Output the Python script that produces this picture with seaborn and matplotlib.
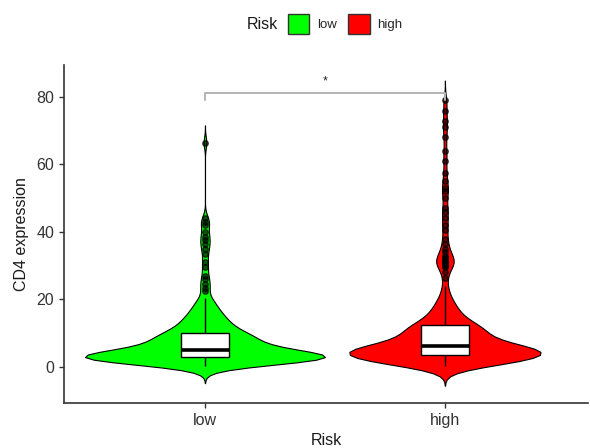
import numpy as np
import pandas as pd
import matplotlib
matplotlib.use("Agg")
import matplotlib.pyplot as plt
from matplotlib.patches import Patch
import seaborn as sns

# CD4 expression values (value bins with counts + outlier points)
low_core_values = [0.3, 0.8, 1.3, 1.8, 2.3, 2.6, 2.9, 3.3, 3.8, 4.3, 4.8, 5.5, 6.5, 7.5,
                   8.5, 9.5, 10.2, 11.5, 12.5, 13.5, 14.5, 15.5, 16.5, 17.5, 18.5, 19.5,
                   20.5]
low_core_counts = [4, 6, 8, 11, 15, 8, 9, 14, 12, 10, 7, 11, 10, 10,
                   9, 8, 7, 6, 5, 4, 4, 3, 3, 2, 2, 2,
                   1]
low_outliers = [22.5, 23.5, 24.5, 26, 27, 29.5, 31, 33.5, 35, 36.5, 37.5, 38.5,
                40, 42, 43, 44, 66.5]

high_core_values = [0.3, 0.8, 1.3, 1.8, 2.3, 2.8, 3.3,
                    3.8, 4.3, 4.8, 5.3, 5.9,
                    6.5, 7.5, 8.5, 9.5, 10.5, 11.5, 12.2,
                    13, 14, 15, 16, 17, 18, 19, 20, 21.5, 22.5, 24]
high_core_counts = [6, 7, 8, 9, 10, 10, 10,
                    12, 12, 12, 12, 12,
                    10, 10, 9, 9, 8, 8, 6,
                    5, 4, 4, 3, 3, 2, 2, 2, 1, 1, 1]
high_outliers = [26.5, 28, 29.5, 30, 30.5, 31, 31, 31.5, 32, 32.5, 33, 34, 35, 36.5,
                 38, 40.5, 42, 44, 46, 47, 50, 52, 53, 55, 57.5, 61, 64, 68, 71, 73,
                 76, 79]

groups = ["low", "high"]
palette = {"low": "#00FF00", "high": "#FF0000"}

low = np.concatenate([np.repeat(low_core_values, low_core_counts), low_outliers])
high = np.concatenate([np.repeat(high_core_values, high_core_counts), high_outliers])
df = pd.DataFrame({
    "Risk": ["low"] * len(low) + ["high"] * len(high),
    "CD4": np.concatenate([low, high]),
})


def nrd0(kde):
    # R's default bandwidth (bw.nrd0), as used by ggplot's violins
    x = kde.dataset[0]
    sd = x.std(ddof=1)
    q75, q25 = np.percentile(x, [75, 25])
    lo = min(sd, (q75 - q25) / 1.34)
    return 0.9 * lo * len(x) ** -0.2 / sd


sns.set_style("white")
plt.rcParams["font.family"] = ["Liberation Sans", "DejaVu Sans"]

fig = plt.figure(figsize=(5.9, 4.48), dpi=100)
ax = fig.add_axes([0.1085, 0.1004, 0.888, 0.7546])

sns.violinplot(data=df, x="Risk", y="CD4", hue="Risk", order=groups, hue_order=groups,
               palette=palette, inner=None, cut=3, bw_method=nrd0, density_norm="area",
               common_norm=True, width=1.0, linecolor="black", linewidth=0.8,
               saturation=1, legend=False, ax=ax)

sns.boxplot(data=df, x="Risk", y="CD4", order=groups, color="white", width=0.2,
            linecolor="black", linewidth=1.0, saturation=1, showcaps=False, ax=ax,
            medianprops=dict(color="black", linewidth=2.6),
            flierprops=dict(marker="o", markerfacecolor="black", markeredgecolor="black",
                            markersize=4, alpha=0.65))

# significance bracket
ytop = df["CD4"].max() + 2.2
ax.plot([0, 0, 1, 1], [ytop - 2.1, ytop, ytop, ytop - 2.1], color="#b3b3b3", lw=1.4)
ax.text(0.5, ytop + 1.6, "*", ha="center", va="bottom", fontsize=9, color="#222222")

ax.set_xlim(-0.5875, 1.596)
ax.set_ylim(-10.7, 89.5)
ax.set_yticks([0, 20, 40, 60, 80])
ax.set_xlabel("Risk", fontsize=11.5, color="#1a1a1a", labelpad=4)
ax.set_ylabel("CD4 expression", fontsize=11.5, color="#1a1a1a", labelpad=5)
ax.tick_params(axis="both", labelsize=11.5, labelcolor="#333333", length=3.5,
               width=1.0, color="#333333", direction="out", bottom=True, left=True)
sns.despine(ax=ax)
for s in ["left", "bottom"]:
    ax.spines[s].set_color("#333333")
    ax.spines[s].set_linewidth(1.2)

handles = [Patch(facecolor=palette[g], edgecolor="#333333", linewidth=1.0, label=g)
           for g in groups]
fig.legend(handles=handles, loc="center", bbox_to_anchor=(0.585, 0.946), ncol=2,
           frameon=False, fontsize=9.5, handlelength=1.65, handleheight=1.9,
           handletextpad=0.6, columnspacing=0.8)
fig.text(247 / 590, 0.946, "Risk", ha="left", va="center", fontsize=11.5, color="#1a1a1a")

fig.savefig("out.png", dpi=100)
